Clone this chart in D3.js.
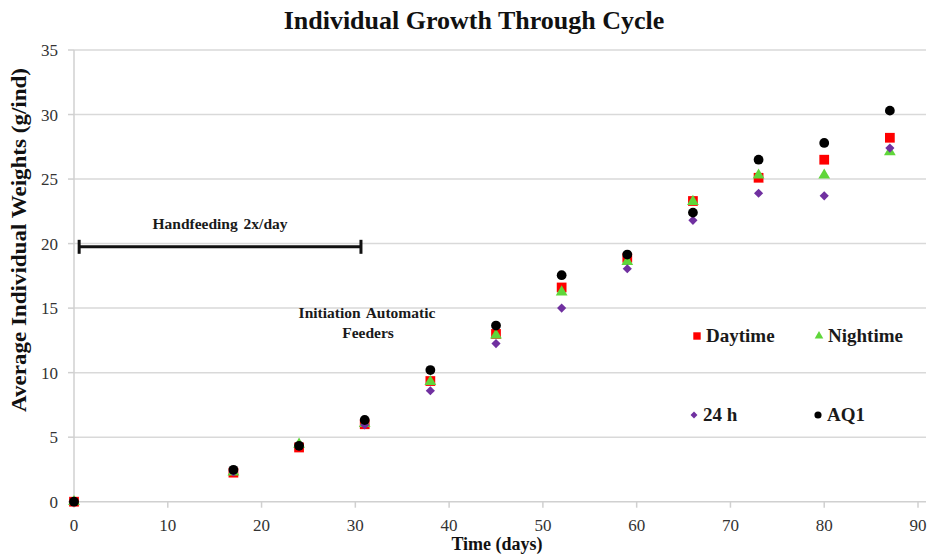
<!DOCTYPE html>
<html>
<head>
<meta charset="utf-8">
<script src="https://cdn.jsdelivr.net/npm/d3@7"></script>
<style>
  body { margin: 0; background: #fff; }
  text { font-family: "Liberation Serif", "DejaVu Serif", serif; }
</style>
</head>
<body>
<svg id="chart"></svg>
<script>
// Sampling days and average weights per treatment
const days = [0, 17, 24, 31, 38, 45, 52, 59, 66, 73, 80, 87];
const daytime = [0, 2.25, 4.2, 6.0, 9.35, 13.0, 16.6, 18.9, 23.3, 25.1, 26.5, 28.2];
const nightime = [0, 2.3, 4.45, 6.05, 9.3, 12.9, 16.25, 18.6, 23.25, 25.3, 25.3, 27.1];
const h24 = [0, 2.3, 4.3, 5.95, 8.6, 12.25, 15.0, 18.05, 21.8, 23.9, 23.7, 27.4];
const aq1 = [0, 2.47, 4.33, 6.33, 10.2, 13.65, 17.55, 19.15, 22.4, 26.5, 27.8, 30.3];
const xTicks = [0, 10, 20, 30, 40, 50, 60, 70, 80, 90];
const yTicks = [0, 5, 10, 15, 20, 25, 30, 35];

const width = 930;
const height = 554;
const margin = { top: 50, right: 12, bottom: 53, left: 74 };

const svg = d3.select("#chart")
    .attr("width", width)
    .attr("height", height);

const xScale = d3.scaleLinear()
    .domain([0, 90])
    .range([margin.left, 918]);

const yScale = d3.scaleLinear()
    .domain([0, 35])
    .range([height - margin.bottom + 0.7, margin.top]);

const gridRight = 926;

// Horizontal gridlines
svg.append("g")
    .selectAll("line")
    .data(yTicks.filter(d => d > 0))
    .enter()
    .append("line")
    .attr("x1", xScale(0))
    .attr("x2", gridRight)
    .attr("y1", d => yScale(d))
    .attr("y2", d => yScale(d))
    .style("stroke", "#d9d9d9")
    .style("stroke-width", 1.5);

// Axes lines
svg.append("line")
    .attr("x1", xScale(0)).attr("x2", gridRight)
    .attr("y1", yScale(0)).attr("y2", yScale(0))
    .style("stroke", "#d0d0d0").style("stroke-width", 1.5);

svg.append("line")
    .attr("x1", xScale(0)).attr("x2", xScale(0))
    .attr("y1", yScale(0)).attr("y2", yScale(35))
    .style("stroke", "#d0d0d0").style("stroke-width", 1.5);

// x ticks
const xAxis = svg.append("g");
xAxis.selectAll("line")
    .data(xTicks)
    .enter()
    .append("line")
    .attr("x1", d => xScale(d)).attr("x2", d => xScale(d))
    .attr("y1", yScale(0)).attr("y2", yScale(0) + 6)
    .style("stroke", "#d0d0d0").style("stroke-width", 1.5);
xAxis.selectAll("text")
    .data(xTicks)
    .enter()
    .append("text")
    .attr("x", d => xScale(d))
    .attr("y", yScale(0) + 29)
    .style("text-anchor", "middle")
    .style("font-size", "17px")
    .style("fill", "#333")
    .text(d => d);

// y ticks
const yAxis = svg.append("g");
yAxis.selectAll("line")
    .data(yTicks)
    .enter()
    .append("line")
    .attr("x1", xScale(0) - 6).attr("x2", xScale(0))
    .attr("y1", d => yScale(d)).attr("y2", d => yScale(d))
    .style("stroke", "#d0d0d0").style("stroke-width", 1.5);
yAxis.selectAll("text")
    .data(yTicks)
    .enter()
    .append("text")
    .attr("x", xScale(0) - 16)
    .attr("y", d => yScale(d) + 6)
    .style("text-anchor", "end")
    .style("font-size", "17px")
    .style("fill", "#333")
    .text(d => d);

// Series (diamond drawn as a square turned 45 degrees)
const series = [
    { name: "Daytime", values: daytime, color: "#ff0000", shape: d3.symbolSquare, size: 95, rot: 0 },
    { name: "Nightime", values: nightime, color: "#5fd63a", shape: d3.symbolTriangle, size: 60, rot: 0 },
    { name: "24 h", values: h24, color: "#7030a0", shape: d3.symbolSquare, size: 42, rot: 45 },
    { name: "AQ1", values: aq1, color: "#000000", shape: d3.symbolCircle, size: 75, rot: 0 }
];

series.forEach(s => {
    svg.append("g")
        .selectAll("path")
        .data(days.map((d, i) => [d, s.values[i]]))
        .enter()
        .append("path")
        .attr("transform", d => `translate(${xScale(d[0])},${yScale(d[1])}) rotate(${s.rot})`)
        .attr("d", d3.symbol().type(s.shape).size(s.size))
        .style("fill", s.color);
});

// Legend inside the plot
const legendPos = [[697, 336], [819, 336], [694, 415], [818, 415]];
const legendSize = [55, 32, 24, 40];
series.forEach((s, i) => {
    const g = svg.append("g")
        .attr("transform", `translate(${legendPos[i][0]},${legendPos[i][1]})`);
    g.append("path")
        .attr("transform", `rotate(${s.rot})`)
        .attr("d", d3.symbol().type(s.shape).size(legendSize[i]))
        .style("fill", s.color);
    g.append("text")
        .attr("x", 9)
        .attr("y", 6)
        .style("font-size", "19px")
        .style("font-weight", "bold")
        .style("fill", "#1a1a1a")
        .text(s.name);
});

// Handfeeding annotation
const barY = yScale(19.75);
svg.append("line")
    .attr("x1", xScale(0.55)).attr("x2", xScale(30.6))
    .attr("y1", barY).attr("y2", barY)
    .style("stroke", "#111").style("stroke-width", 3);
[0.55, 30.6].forEach(d => {
    svg.append("line")
        .attr("x1", xScale(d)).attr("x2", xScale(d))
        .attr("y1", barY - 7).attr("y2", barY + 7)
        .style("stroke", "#111").style("stroke-width", 3);
});
svg.append("text")
    .attr("x", 220)
    .attr("y", 229)
    .style("text-anchor", "middle")
    .style("font-size", "15.5px")
    .style("font-weight", "bold")
    .style("fill", "#1a1a1a")
    .style("word-spacing", "2px")
    .text("Handfeeding 2x/day");

svg.append("text")
    .attr("x", 367)
    .attr("y", 318)
    .style("text-anchor", "middle")
    .style("font-size", "15.5px")
    .style("font-weight", "bold")
    .style("fill", "#1a1a1a")
    .style("word-spacing", "2px")
    .text("Initiation Automatic");
svg.append("text")
    .attr("x", 368)
    .attr("y", 338)
    .style("text-anchor", "middle")
    .style("font-size", "15.5px")
    .style("font-weight", "bold")
    .style("fill", "#1a1a1a")
    .text("Feeders");

// Title
svg.append("text")
    .attr("x", 474)
    .attr("y", 29)
    .style("text-anchor", "middle")
    .style("font-size", "26px")
    .style("font-weight", "bold")
    .style("fill", "#111")
    .text("Individual Growth Through Cycle");

// Axis labels
svg.append("text")
    .attr("x", 497)
    .attr("y", 550)
    .style("text-anchor", "middle")
    .style("font-size", "18px")
    .style("font-weight", "bold")
    .style("fill", "#111")
    .text("Time (days)");

svg.append("text")
    .attr("transform", "translate(26,412) rotate(-90)")
    .attr("textLength", 344)
    .attr("lengthAdjust", "spacingAndGlyphs")
    .style("font-size", "20px")
    .style("font-weight", "bold")
    .style("fill", "#111")
    .text("Average Individual Weights (g/ind)");
</script>
</body>
</html>
